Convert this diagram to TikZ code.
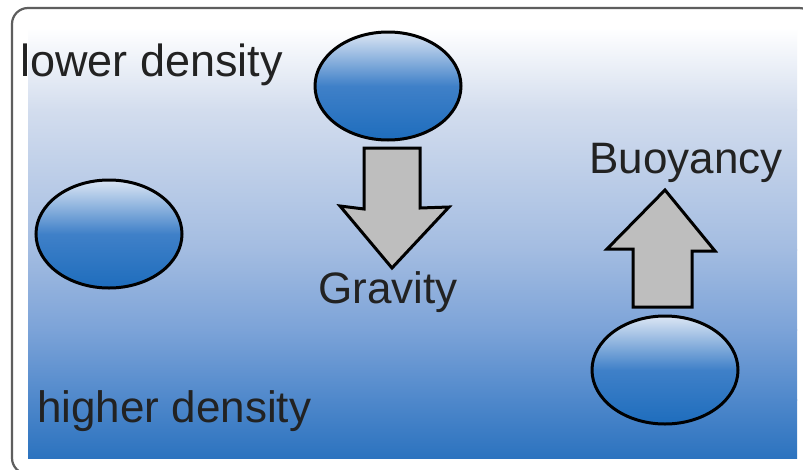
\documentclass[tikz,border=0pt]{standalone}
\usepackage{fontspec}
\setmainfont{Liberation Sans}
\usetikzlibrary{shapes.geometric}
\definecolor{txt}{HTML}{222222}
\definecolor{framegray}{HTML}{5E5E5E}
\definecolor{arrowgray}{HTML}{BEBEBE}
\definecolor{bgA}{HTML}{D3DDEE}
\definecolor{bgB}{HTML}{A3BCE1}
\definecolor{bgC}{HTML}{7CA3D8}
\definecolor{bgD}{HTML}{4F88CB}
\definecolor{bgE}{HTML}{2C73BF}
\definecolor{blobtop}{HTML}{DCE6F4}
\definecolor{blobmid}{HTML}{3F80C8}
\definecolor{blobbot}{HTML}{1E6DBD}
\begin{document}
\begin{tikzpicture}[x=1pt,y=-1pt,
  lbl/.style={text=txt, font=\fontsize{44}{50}\selectfont, inner sep=0pt},
  blob/.style={ellipse, draw=black, line width=3pt, minimum width=146pt, minimum height=108pt, inner sep=0pt,
    top color=blobtop, bottom color=blobbot, middle color=blobmid},
  blockarrow/.style={draw=black, line width=3pt, fill=arrowgray, line join=miter}]
\useasboundingbox (0,0) rectangle (803,469);
\fill[white] (0,0) rectangle (803,469);
\begin{scope}
  \clip (0,0) rectangle (803,469);
  \draw[framegray, line width=2.2pt, rounded corners=16pt] (12,8) rectangle (815,474);
\end{scope}
% background gradient
\shade[top color=white, bottom color=bgA] (28,28) rectangle (797,110);
\shade[top color=bgA, bottom color=bgB] (28,109.5) rectangle (797,250);
\shade[top color=bgB, bottom color=bgC] (28,249.5) rectangle (797,330);
\shade[top color=bgC, bottom color=bgD] (28,329.5) rectangle (797,400);
\shade[top color=bgD, bottom color=bgE] (28,399.5) rectangle (797,458);
% objects
\node[blob] (top) at (388,86) {};
\node[blob] (left) at (109,234) {};
\node[blob] (right) at (665,370) {};
% arrows
\draw[blockarrow] (364,148) -- (420,148) -- (420,208) -- (449,207) -- (392,268) -- (340,206) -- (364,209) -- cycle;
\draw[blockarrow] (633,307) -- (692,307) -- (692,251) -- (715,251) -- (665,190) -- (607,249) -- (633,249) -- cycle;
% labels
\node[lbl, anchor=base west, font=\fontsize{45}{50}\selectfont] (lower) at (20,76) {lower density};
\node[lbl, anchor=base west] (higher) at (37,422) {higher density};
\node[lbl, anchor=base] (gravity) at (388,303) {Gravity};
\node[lbl, anchor=base] (buoy) at (686,173) {Buoyancy};
\end{tikzpicture}
\end{document}
